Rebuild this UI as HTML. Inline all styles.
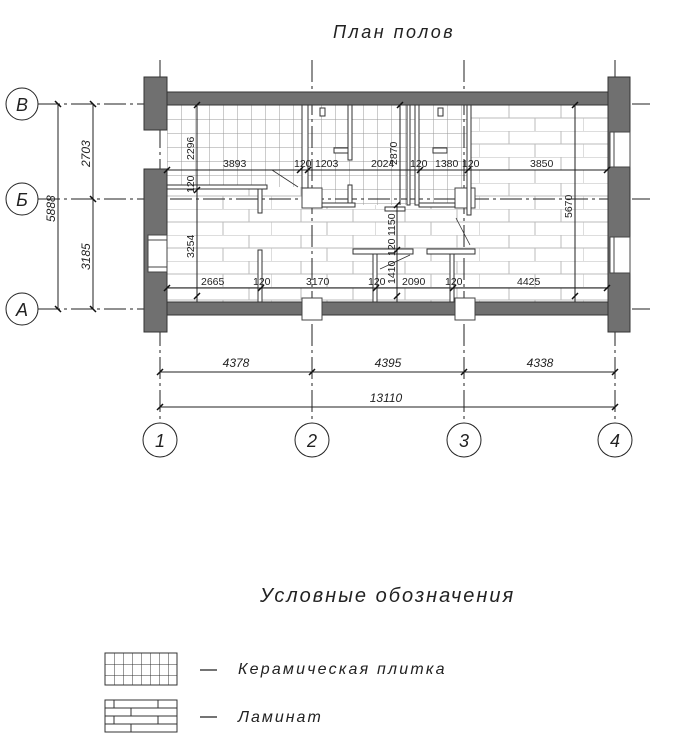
<!DOCTYPE html>
<html><head><meta charset="utf-8"><style>
html,body{margin:0;padding:0;background:#fff;}
svg{display:block;}
text{font-family:"Liberation Sans","DejaVu Sans",sans-serif;fill:#222;}
.it{font-style:italic;}
</style></head><body>
<svg width="680" height="743" viewBox="0 0 680 743" xmlns="http://www.w3.org/2000/svg">
<defs>
<pattern id="tile" x="167" y="105" width="14" height="14" patternUnits="userSpaceOnUse">
<rect width="14" height="14" fill="#fff"/><path d="M0 0H14M0 0V14" stroke="#999" stroke-width="1"/>
</pattern>
<pattern id="lam" x="167" y="105" width="104" height="26" patternUnits="userSpaceOnUse">
<rect width="104" height="26" fill="#fff"/>
<path d="M0 0H104M0 13H104M30 0V13M82 0V13M0 13V26M56 13V26" stroke="#bbb" stroke-width="1"/>
</pattern>
<pattern id="ltile" x="105" y="653" width="9" height="11" patternUnits="userSpaceOnUse">
<path d="M0 0H9M0 0V11" stroke="#333" stroke-width="1"/></pattern>
</defs>

<text x="333" y="38" class="it" font-size="18" letter-spacing="2.5">План полов</text>

<rect x="167" y="105" width="441" height="197" fill="url(#lam)"/>
<rect x="167" y="105" width="135" height="82" fill="url(#tile)"/>
<rect x="302" y="105" width="168" height="100" fill="url(#tile)"/>

<g stroke="#222" stroke-width="1" stroke-dasharray="22,4,3,4">
<line x1="160" y1="60" x2="160" y2="423"/>
<line x1="312" y1="60" x2="312" y2="423"/>
<line x1="464" y1="60" x2="464" y2="423"/>
<line x1="615" y1="60" x2="615" y2="423"/>
<line x1="38" y1="104" x2="650" y2="104"/>
<line x1="38" y1="199" x2="650" y2="199"/>
<line x1="38" y1="309" x2="650" y2="309"/>
</g>

<g fill="#707070" stroke="#333" stroke-width="1">
<rect x="160" y="92" width="460" height="13"/>
<rect x="160" y="302" width="455" height="13"/>
<rect x="144" y="77" width="23" height="53"/>
<rect x="144" y="169" width="23" height="163"/>
<rect x="608" y="77" width="22" height="255"/>
</g>
<g fill="#fff" stroke="#444" stroke-width="1">
<rect x="148" y="235" width="19" height="37"/>
<rect x="610" y="132" width="20" height="35"/>
<rect x="610" y="237" width="20" height="36"/>
<rect x="302" y="298" width="20" height="22"/>
<rect x="455" y="298" width="20" height="22"/>
<rect x="302" y="188" width="20" height="20"/>
<rect x="455" y="188" width="20" height="20"/>
</g>
<g stroke="#444" stroke-width="1">
<line x1="148" y1="240" x2="167" y2="240"/><line x1="148" y1="267" x2="167" y2="267"/>
<line x1="614" y1="132" x2="614" y2="167"/><line x1="614" y1="237" x2="614" y2="273"/>
</g>

<g fill="#fff" stroke="#333" stroke-width="1">
<rect x="302" y="105" width="6" height="83"/>
<rect x="348" y="105" width="4" height="55"/>
<rect x="348" y="185" width="4" height="20"/>
<rect x="322" y="203" width="33" height="4"/>
<rect x="407" y="105" width="3" height="100"/>
<rect x="415" y="105" width="4" height="100"/>
<rect x="419" y="203" width="36" height="4"/>
<rect x="467" y="105" width="4" height="110"/>
<rect x="167" y="185" width="100" height="4"/>
<rect x="258" y="189" width="4" height="24"/>
<rect x="258" y="250" width="4" height="52"/>
<rect x="353" y="249" width="60" height="5"/>
<rect x="427" y="249" width="48" height="5"/>
<rect x="373" y="254" width="4" height="48"/>
<rect x="450" y="254" width="4" height="48"/>
<rect x="385" y="207" width="20" height="4"/>
<rect x="334" y="148" width="14" height="5"/>
<rect x="433" y="148" width="14" height="5"/>
<rect x="320" y="108" width="5" height="8"/>
<rect x="438" y="108" width="5" height="8"/>
</g>
<g stroke="#333" stroke-width="0.8">
<line x1="272" y1="170" x2="298" y2="187"/>
<line x1="456" y1="218" x2="470" y2="245"/>
<line x1="380" y1="269" x2="410" y2="255"/>
</g>

<g stroke="#222" stroke-width="1">
<line x1="167" y1="170" x2="608" y2="170"/>
<line x1="167" y1="288" x2="608" y2="288"/>
<line x1="197" y1="105" x2="197" y2="302"/>
<line x1="575" y1="105" x2="575" y2="302"/>
<line x1="400" y1="105" x2="400" y2="205"/>
<line x1="397" y1="205" x2="397" y2="302"/>
</g>
<g stroke="#111" stroke-width="1.5">
<path d="M194 108l6-6M194 193l6-6M194 299l6-6M572 108l6-6M572 299l6-6M164 173l6-6M604 173l6-6M164 291l6-6M604 291l6-6M297 173l6-6M305 173l6-6M417 173l6-6M465 173l6-6M258 291l6-6M373 291l6-6M450 291l6-6M397 108l6-6M394 208l6-6M394 253l6-6M394 299l6-6"/>
</g>
<g font-size="10.5">
<text x="223" y="167">3893</text>
<text x="294" y="167">120</text>
<text x="315" y="167">1203</text>
<text x="371" y="167">2024</text>
<text x="410" y="167">120</text>
<text x="435" y="167">1380</text>
<text x="462" y="167">120</text>
<text x="530" y="167">3850</text>
<text x="201" y="285">2665</text>
<text x="253" y="285">120</text>
<text x="306" y="285">3170</text>
<text x="368" y="285">120</text>
<text x="402" y="285">2090</text>
<text x="445" y="285">120</text>
<text x="517" y="285">4425</text>
<text transform="translate(194,160) rotate(-90)">2296</text>
<text transform="translate(194,193) rotate(-90)">120</text>
<text transform="translate(194,258) rotate(-90)">3254</text>
<text transform="translate(572,218) rotate(-90)">5670</text>
<text transform="translate(397,165) rotate(-90)">2870</text>
<text transform="translate(395,256) rotate(-90)">120</text>
<text transform="translate(395,236) rotate(-90)">1150</text>
<text transform="translate(395,284) rotate(-90)">1410</text>
</g>

<g stroke="#222" stroke-width="1">
<line x1="58" y1="104" x2="58" y2="309"/>
<line x1="93" y1="104" x2="93" y2="309"/>
</g>
<g stroke="#111" stroke-width="1.5">
<path d="M55 101l6 6M90 101l6 6M55 306l6 6M90 306l6 6M90 196l6 6"/>
</g>
<g font-size="12">
<text transform="translate(55,222) rotate(-90)" class="it">5888</text>
<text transform="translate(90,167) rotate(-90)" class="it">2703</text>
<text transform="translate(90,270) rotate(-90)" class="it">3185</text>
</g>
<g fill="#fff" stroke="#222" stroke-width="1">
<circle cx="22" cy="104" r="16"/><circle cx="22" cy="199" r="16"/><circle cx="22" cy="309" r="16"/>
<circle cx="160" cy="440" r="17"/><circle cx="312" cy="440" r="17"/><circle cx="464" cy="440" r="17"/><circle cx="615" cy="440" r="17"/>
</g>
<g font-size="18" text-anchor="middle">
<text x="22" y="111" class="it">В</text><text x="22" y="206" class="it">Б</text><text x="22" y="316" class="it">А</text>
<text x="160" y="447" class="it">1</text><text x="312" y="447" class="it">2</text><text x="464" y="447" class="it">3</text><text x="615" y="447" class="it">4</text>
</g>

<g stroke="#222" stroke-width="1">
<line x1="160" y1="372" x2="615" y2="372"/>
<line x1="160" y1="407" x2="615" y2="407"/>
</g>
<g stroke="#111" stroke-width="1.5">
<path d="M157 375l6-6M309 375l6-6M461 375l6-6M612 375l6-6M157 410l6-6M612 410l6-6"/>
</g>
<g font-size="12" text-anchor="middle">
<text x="236" y="367" class="it">4378</text>
<text x="388" y="367" class="it">4395</text>
<text x="540" y="367" class="it">4338</text>
<text x="386" y="402" class="it">13110</text>
</g>

<text x="260" y="602" font-size="20" class="it" letter-spacing="2">Условные обозначения</text>
<rect x="105" y="653" width="72" height="32" fill="url(#ltile)" stroke="#333" stroke-width="1"/>
<rect x="105" y="700" width="72" height="32" fill="#fff" stroke="#333" stroke-width="1"/>
<path d="M105 708H177M105 716H177M105 724H177M114 700V708M158 700V708M131 708V716M158 716V724M114 716V724M131 724V732" stroke="#333" stroke-width="1" fill="none"/>
<line x1="200" y1="670" x2="217" y2="670" stroke="#222" stroke-width="1.3"/>
<line x1="200" y1="717" x2="217" y2="717" stroke="#222" stroke-width="1.3"/>
<text x="238" y="674" font-size="16" class="it" letter-spacing="2.2">Керамическая плитка</text>
<text x="238" y="722" font-size="16" class="it" letter-spacing="2">Ламинат</text>
</svg>
</body></html>
